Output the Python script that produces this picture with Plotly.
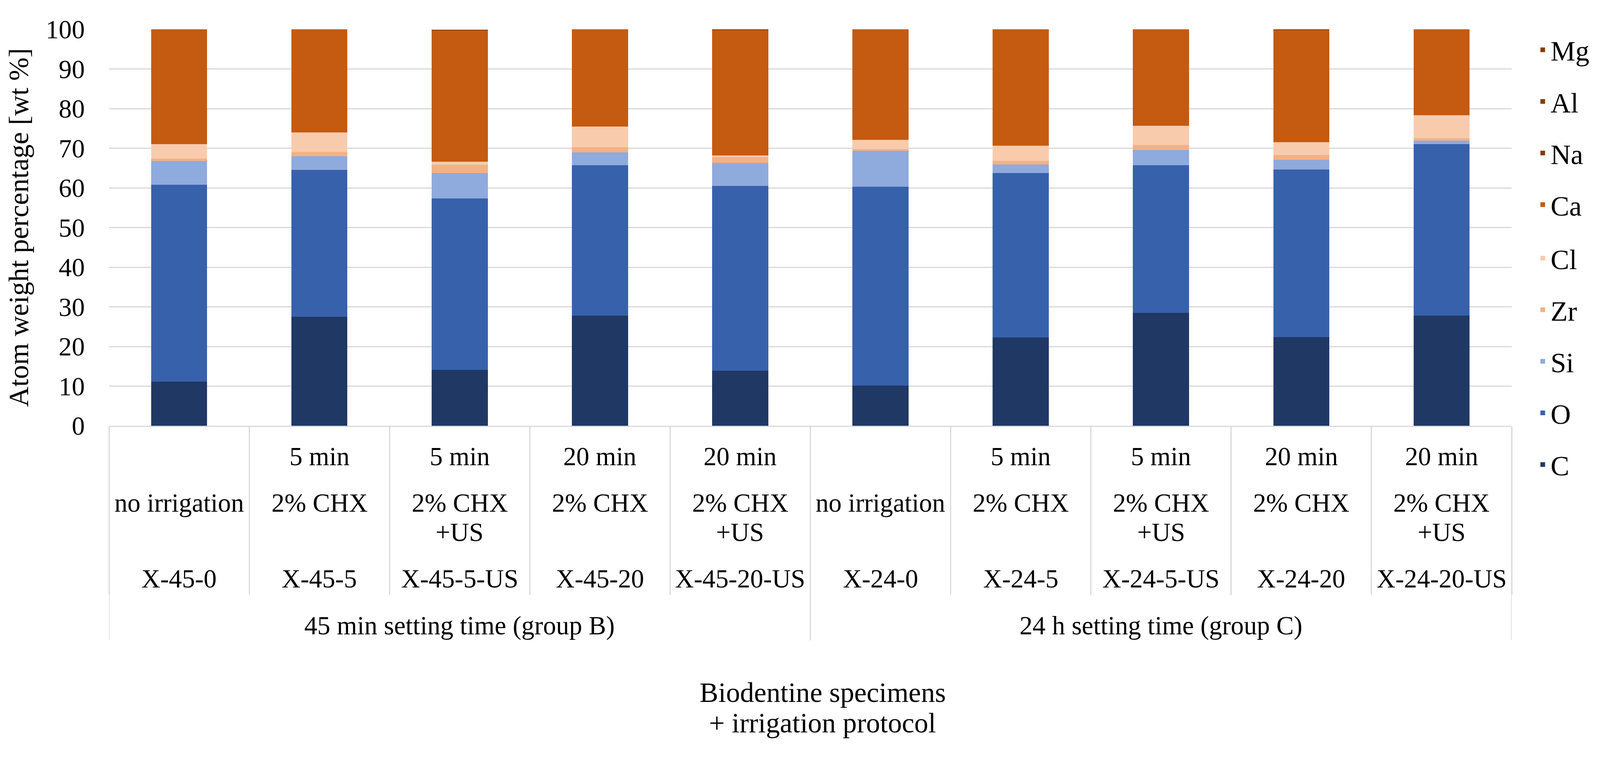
import plotly.graph_objects as go

# ---------------- data ----------------
codes = ["X-45-0", "X-45-5", "X-45-5-US", "X-45-20", "X-45-20-US",
         "X-24-0", "X-24-5", "X-24-5-US", "X-24-20", "X-24-20-US"]
times = ["", "5 min", "5 min", "20 min", "20 min",
         "", "5 min", "5 min", "20 min", "20 min"]
agents = ["no irrigation", "2% CHX", "2% CHX", "2% CHX", "2% CHX",
          "no irrigation", "2% CHX", "2% CHX", "2% CHX", "2% CHX"]
us_flags = ["", "", "+US", "", "+US", "", "", "+US", "", "+US"]
groups = ["45 min setting time (group B)", "24 h setting time (group C)"]
group_sizes = [5, 5]

C = [11.1, 27.5, 14.1, 27.8, 13.9, 10.1, 22.3, 28.5, 22.4, 27.8]
O = [49.7, 37.0, 43.2, 37.9, 46.6, 50.2, 41.4, 37.2, 42.2, 43.2]
Si = [6.0, 3.5, 6.4, 3.3, 5.8, 9.1, 2.2, 3.9, 2.5, 0.9]
Zr = [0.6, 1.1, 2.1, 1.2, 1.5, 0.4, 0.9, 1.2, 1.2, 0.6]
Cl = [3.6, 4.9, 0.8, 5.3, 0.4, 2.3, 3.8, 4.9, 3.2, 5.8]
Ca = [29.0, 26.0, 33.2, 24.5, 31.7, 27.9, 29.4, 24.3, 28.3, 21.7]
Na = [0.0, 0.0, 0.1, 0.0, 0.0, 0.0, 0.0, 0.0, 0.2, 0.0]
Al = [0.0, 0.0, 0.0, 0.0, 0.0, 0.0, 0.0, 0.0, 0.0, 0.0]
Mg = [0.0, 0.0, 0.0, 0.0, 0.1, 0.0, 0.0, 0.0, 0.0, 0.0]

series = [("C", C), ("O", O), ("Si", Si), ("Zr", Zr), ("Cl", Cl),
          ("Ca", Ca), ("Na", Na), ("Al", Al), ("Mg", Mg)]
colors = {"C": "#203864", "O": "#3761AB", "Si": "#8FAADC", "Zr": "#F4B183",
          "Cl": "#F8CBAD", "Ca": "#C55A11", "Na": "#843C0C", "Al": "#843C0C",
          "Mg": "#843C0C"}
# legend split in two blocks (upper: Mg..Ca, lower: Cl..C)
upper_legend = ["Mg", "Al", "Na", "Ca"]

# ---------------- layout geometry ----------------
S = 1.02                     # observed screenshot scale (device px / css px)
OFF = 8                      # default page body margin (css px)
W = round(4184 / S) - 2 * OFF
H = round(1938 / S) - 2 * OFF
FONT = "Liberation Serif, Times New Roman, serif"
GRID = "#D9D9D9"


def f(p):
    # target screenshot pixel -> figure css pixel
    return p / S - OFF


L = round(f(284.5))
T = round(f(76.5))
R = W - round(f(3947))
B = H - round(f(1112))
PW, PH = W - L - R, H - T - B


def py(p):
    return (T + PH - f(p)) / PH


def px(p):
    return (f(p) - L) / PW


def fs(size):
    return round(size / S, 1)


fig = go.Figure()
n_series = len(series)
for k, (name, vals) in enumerate(series):
    fig.add_trace(go.Bar(
        x=codes, y=vals, name=name, legendgroup=name,
        legend="legend" if name in upper_legend else "legend2",
        legendrank=n_series - k,
        marker=dict(color=colors[name], line=dict(width=0)),
    ))

annotations = []
rows = [(times, 1192), (agents, 1313), (us_flags, 1390), (codes, 1511)]
for labels, ypix in rows:
    for code, lab in zip(codes, labels):
        if lab:
            annotations.append(dict(
                x=code, xref="x", y=py(ypix), yref="paper", text=lab,
                showarrow=False, xanchor="center", yanchor="middle",
                font=dict(family=FONT, size=fs(68), color="#000000")))

shapes = []
start = 0
bounds = [-0.5]
for g, n in zip(groups, group_sizes):
    annotations.append(dict(
        x=start + (n - 1) / 2, xref="x", y=py(1634), yref="paper", text=g,
        showarrow=False, xanchor="center", yanchor="middle",
        font=dict(family=FONT, size=fs(68), color="#000000")))
    start += n
    bounds.append(start - 0.5)
for b in bounds:
    shapes.append(dict(type="line", xref="x", yref="paper", x0=b, x1=b,
                       y0=0, y1=py(1672), line=dict(color=GRID, width=3)))

for txt, ypix in [("Biodentine specimens", 1808), ("+ irrigation protocol", 1888)]:
    annotations.append(dict(
        x=px(2148), xref="paper", y=py(ypix), yref="paper", text=txt,
        showarrow=False, xanchor="center", yanchor="middle",
        font=dict(family=FONT, size=fs(73), color="#000000")))

legend_style = dict(traceorder="grouped", tracegroupgap=36,
                    xanchor="left", yanchor="top",
                    font=dict(family=FONT, size=fs(73), color="#000000"),
                    bgcolor="rgba(0,0,0,0)")

fig.update_layout(
    width=W, height=H,
    margin=dict(l=L, r=R, t=T, b=B, autoexpand=False),
    paper_bgcolor="white", plot_bgcolor="white",
    barmode="stack", bargap=0.6,
    font=dict(family=FONT, color="#000000"),
    showlegend=True,
    legend=dict(x=px(4008), y=py(76), **legend_style),
    legend2=dict(x=px(4008), y=py(620), **legend_style),
    xaxis=dict(type="category", showline=True, linecolor=GRID, linewidth=3,
               ticks="outside", tickson="boundaries", ticklen=round(439 / S),
               tickwidth=3, tickcolor=GRID, showticklabels=False,
               showgrid=False, zeroline=False, range=[-0.5, 9.5]),
    yaxis=dict(range=[0, 100], dtick=10, showgrid=True, gridcolor=GRID,
               gridwidth=3, zeroline=False, showline=False,
               ticklabelstandoff=round(62 / S),
               tickfont=dict(family=FONT, size=fs(68), color="#000000"),
               title=dict(text="Atom weight percentage [wt %]", standoff=22,
                          font=dict(family=FONT, size=fs(73), color="#000000"))),
    annotations=annotations, shapes=shapes,
)

fig.write_html("out.html")
